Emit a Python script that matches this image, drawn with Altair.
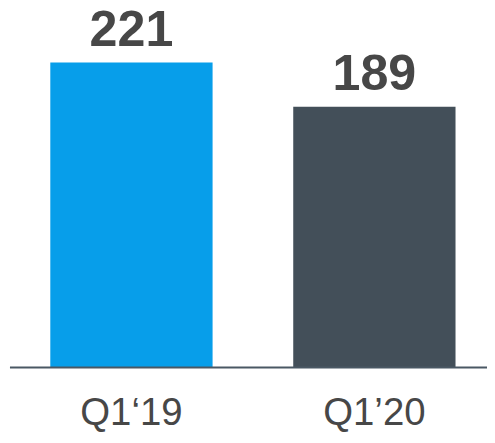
import altair as alt
import pandas as pd

categories = ["Q1‘19", "Q1’20"]
values = [221, 189]
colors = ["#079EEA", "#434F59"]

df = pd.DataFrame({"period": categories, "value": values, "color": colors})
base_df = pd.DataFrame({"baseline": [0]})

PLOT_W = 476
PLOT_H = 360

y_scale = alt.Scale(domain=[0, 256.6], nice=False, zero=True)

x_enc = alt.X(
    "period:N",
    sort=categories,
    title=None,
    scale=alt.Scale(paddingInner=0.332, paddingOuter=0.1296),
    axis=alt.Axis(
        domain=False,
        ticks=False,
        labelAngle=0,
        labelFont="Liberation Sans",
        labelFontSize=39,
        labelColor="#474747",
        labelBaseline="alphabetic",
        labelPadding=58,
    ),
)

bars = alt.Chart(df).mark_bar().encode(
    x=x_enc,
    y=alt.Y("value:Q", scale=y_scale, axis=None),
    color=alt.Color("color:N", scale=None),
)

labels = alt.Chart(df).mark_text(
    font="Liberation Sans",
    fontWeight="bold",
    fontSize=51,
    color="#474747",
    baseline="alphabetic",
    dy=-17,
).encode(
    x=alt.X("period:N", sort=categories),
    y=alt.Y("value:Q", scale=y_scale, axis=None),
    text="value:Q",
)

baseline = alt.Chart(base_df).mark_rule(color="#4A5864", strokeWidth=2).encode(
    x=alt.value(-9),
    x2=alt.value(PLOT_W + 10),
    y=alt.value(PLOT_H),
)

chart = (
    alt.layer(bars, labels, baseline)
    .properties(
        width=PLOT_W,
        height=PLOT_H,
        autosize=alt.AutoSizeParams(type="none"),
        padding={"left": 11, "top": 2, "right": 0, "bottom": 65},
    )
    .configure_view(stroke=None)
)

chart.save("out.html", embed_options={"renderer": "svg", "actions": False})
